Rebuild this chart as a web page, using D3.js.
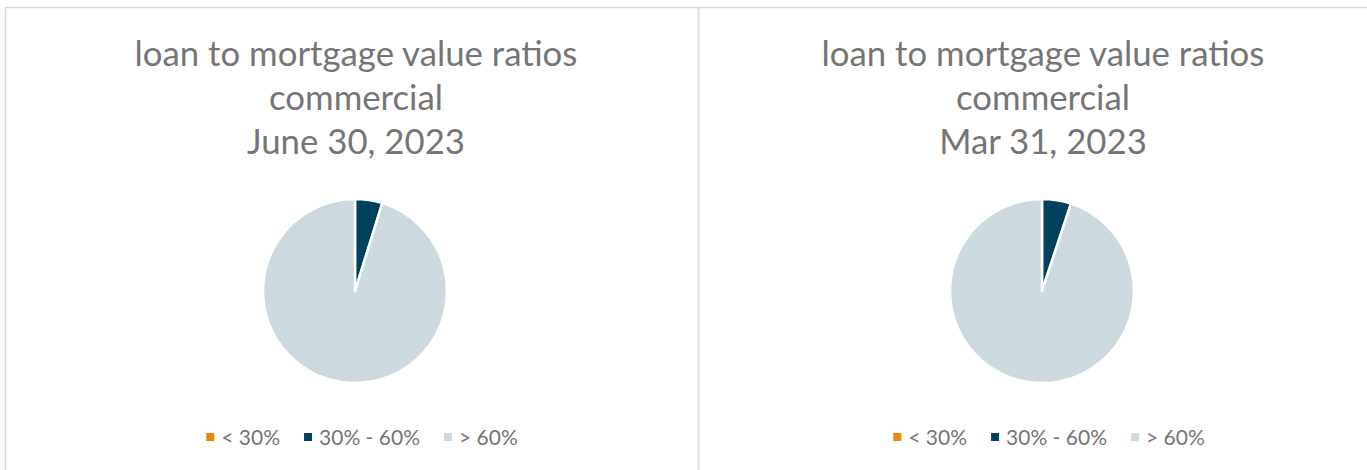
<!DOCTYPE html>
<html>
<head>
<meta charset="utf-8">
<script src="https://cdn.jsdelivr.net/npm/d3@7"></script>
<style>
  html, body { margin: 0; padding: 0; background: #fff; overflow: hidden; }
  text { font-family: Lato, "Open Sans", sans-serif; }
</style>
</head>
<body>
<div id="chart"></div>
<script>
// legend categories and colours
var categories = ["< 30%", "30% - 60%", "> 60%"];
var colors = ["#E98A0C", "#00425E", "#CCDAE0"];

// two snapshots (share of commercial loans, %)
var dates = ["June 30, 2023", "Mar 31, 2023"];
var juneValues = [0, 4.8, 95.2];
var marchValues = [0, 5.1, 94.9];

var titleLines = ["loan to mortgage value ratios", "commercial"];

var svgWidth = 1367;
var svgHeight = 470;

var svg = d3.select("#chart")
  .append("svg")
  .attr("width", svgWidth)
  .attr("height", svgHeight);

var panels = [
  { x: 5, width: 693, cx: 350, date: dates[0], values: juneValues },
  { x: 698, width: 690, cx: 344, date: dates[1], values: marchValues }
];

var pie = d3.pie().sort(null).value(d => d);
var radius = 92;
var arc = d3.arc().innerRadius(0).outerRadius(radius);

var color = d3.scaleOrdinal().domain(categories).range(colors);

panels.forEach(function(p) {
  var g = svg.append("g").attr("transform", `translate(${p.x}, 7)`);

  // chart frame
  g.append("rect")
    .attr("x", 0.5)
    .attr("y", 0.5)
    .attr("width", p.width)
    .attr("height", svgHeight + 20)
    .attr("fill", "none")
    .attr("stroke", "#d9d9d9")
    .attr("stroke-width", 1.5);

  var cx = p.cx;

  // title
  var lines = titleLines.concat([p.date]);
  var title = g.append("g").attr("class", "title");
  lines.forEach(function(line, i) {
    title.append("text")
      .attr("x", cx + 1)
      .attr("y", 59 + i * 44)
      .attr("text-anchor", "middle")
      .attr("fill", "#757575")
      .attr("font-size", 32)
      .text(line);
  });
  // scale title so the first line spans like the picture (~443px)
  var first = title.select("text").node();
  var w = first.getComputedTextLength();
  var fs = 32 * 443 / w;
  title.selectAll("text").attr("font-size", fs);

  // pie
  var pg = g.append("g").attr("transform", `translate(${cx}, 284)`);
  pg.selectAll("path")
    .data(pie(p.values))
    .enter()
    .append("path")
    .attr("d", arc)
    .attr("fill", (d, i) => color(categories[i]))
    .attr("stroke", "#fff")
    .attr("stroke-width", 2.5)
    .attr("stroke-linejoin", "round");

  // legend
  var legend = g.append("g").attr("transform", "translate(0, 431)");
  var items = legend.selectAll("g")
    .data(categories)
    .enter()
    .append("g");

  items.append("rect")
    .attr("width", 8)
    .attr("height", 8)
    .attr("y", -5)
    .attr("fill", d => color(d));

  items.append("text")
    .attr("x", 15)
    .attr("y", 7)
    .attr("fill", "#757575")
    .attr("font-size", 21)
    .text(d => d);

  // lay legend items out in a row, centred
  var gap = 24;
  var widths = [];
  items.each(function() { widths.push(this.getBBox().width); });
  var total = d3.sum(widths) + gap * (widths.length - 1);
  var xPos = cx + 7 - total / 2;
  items.each(function(d, i) {
    d3.select(this).attr("transform", `translate(${xPos}, 0)`);
    xPos += widths[i] + gap;
  });
});
</script>
</body>
</html>
